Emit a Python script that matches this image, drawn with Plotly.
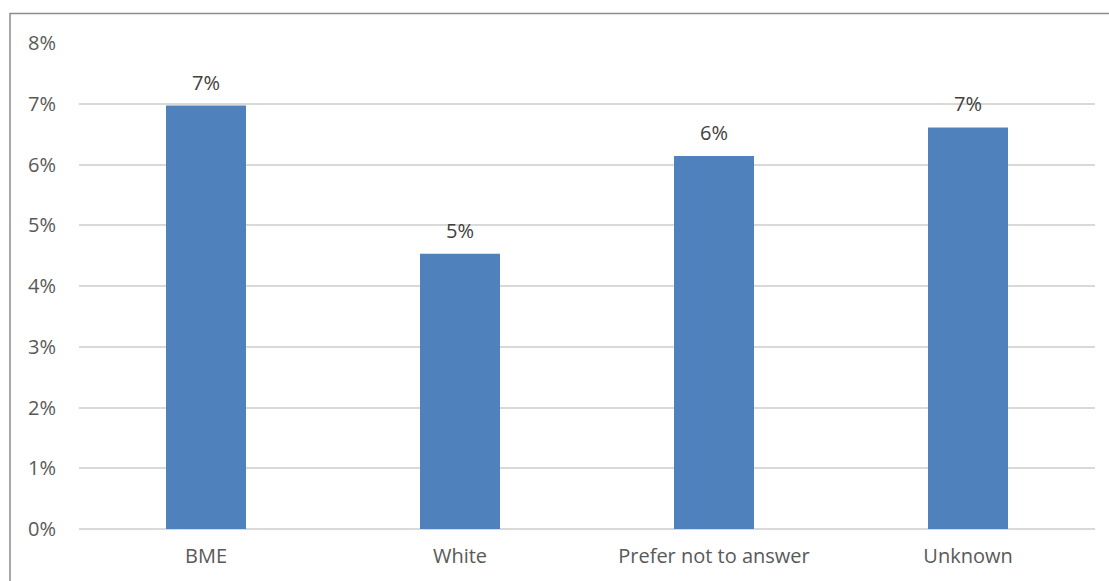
import plotly.graph_objects as go

categories = ["BME", "White", "Prefer not to answer", "Unknown"]
values = [0.0697, 0.0453, 0.0614, 0.0661]
tick_vals = [0, 0.01, 0.02, 0.03, 0.04, 0.05, 0.06, 0.07, 0.08]
tick_text = ["0%", "1%", "2%", "3%", "4%", "5%", "6%", "7%", "8%"]

font_family = "Open Sans, Lato, sans-serif"
text_color = "#595959"

fig = go.Figure()
fig.add_trace(go.Bar(
    x=categories, y=values,
    marker=dict(color="#4f81bd", line=dict(width=0)),
    hoverinfo="skip",
))

for c, v in zip(categories, values):
    fig.add_annotation(
        x=c, y=v, xref="x", yref="y",
        text=f"{round(v*100):.0f}%",
        showarrow=False, yanchor="bottom", yshift=8,
        font=dict(family=font_family, size=20, color="#404040"),
    )

fig.add_shape(
    type="rect", xref="paper", yref="paper",
    x0=-0.0679, x1=1.03, y0=-0.3, y1=1.0607,
    line=dict(color="#8c8c8c", width=1.5),
    fillcolor="rgba(0,0,0,0)", layer="below",
)

fig.update_layout(
    width=1109, height=581,
    margin=dict(l=79, r=14, t=43, b=52),
    plot_bgcolor="white", paper_bgcolor="white",
    showlegend=False,
    bargap=0.685,
    font=dict(family=font_family, size=20, color=text_color),
    xaxis=dict(
        showgrid=False, showline=False, ticks="", ticklabelstandoff=13,
        tickfont=dict(family=font_family, size=20, color=text_color),
    ),
    yaxis=dict(
        range=[0, 0.08], tickvals=tick_vals, ticktext=tick_text,
        showgrid=True, gridcolor="#d9d9d9", gridwidth=1.5,
        zeroline=True, zerolinecolor="#d9d9d9", zerolinewidth=1.5,
        showline=False, ticks="", ticklabelstandoff=22,
        tickfont=dict(family=font_family, size=20, color=text_color),
    ),
)

fig.write_html("out.html")
